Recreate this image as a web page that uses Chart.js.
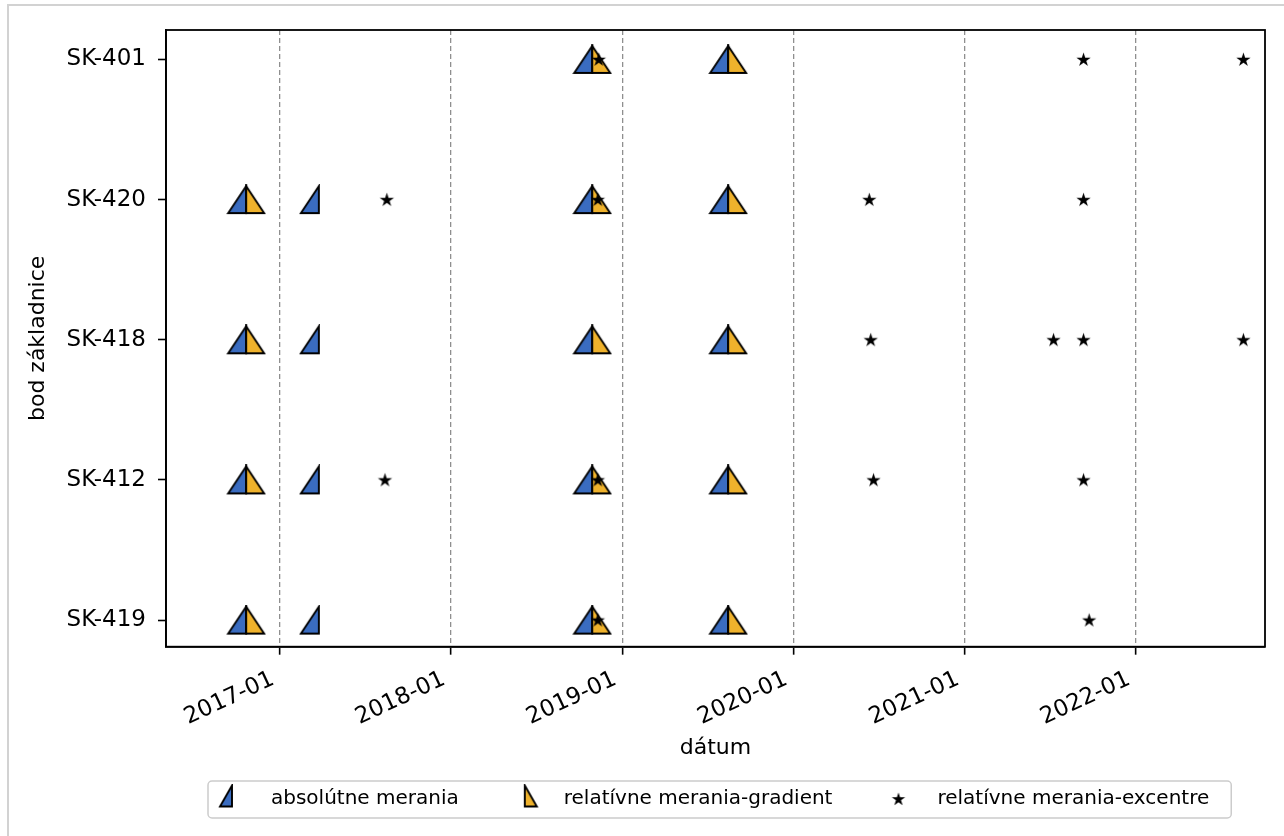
<!DOCTYPE html>
<html lang="sk">
<head>
<meta charset="UTF-8">
<title>Merania na bodoch základnice</title>
<style>
    html, body { margin: 0; padding: 0; background: #fff; overflow: hidden; }
    #wrap { position: relative; width: 1284px; height: 836px; }
    #chart { position: absolute; left: 0; top: 0; }
    #frame { position: absolute; left: 7px; top: 4px; width: 1300px; height: 900px;
             border-left: 2px solid #d2d2d2; border-top: 2px solid #d2d2d2; pointer-events: none; }
</style>
</head>
<body>
<div id="wrap">
    <canvas id="chart" width="1284" height="836"></canvas>
    <div id="frame"></div>
</div>
<script src="https://cdn.jsdelivr.net/npm/chart.js"></script>
<script>
// points of the baseline, bottom to top
const points = ['SK-419', 'SK-412', 'SK-418', 'SK-420', 'SK-401'];
const xTickLabels = ['2017-01', '2018-01', '2019-01', '2020-01', '2021-01', '2022-01'];
const xStart = '2016-05-03';
const xEnd = '2022-10-03';

// absolútne merania
const absoluteDates = [
    '2016-10-21', '2016-10-21', '2016-10-21', '2016-10-21',
    '2017-03-25', '2017-03-25', '2017-03-25', '2017-03-25',
    '2018-10-29', '2018-10-29', '2018-10-29', '2018-10-29', '2018-10-29',
    '2019-08-15', '2019-08-15', '2019-08-15', '2019-08-15', '2019-08-15'
];
const absolutePoints = [
    'SK-420', 'SK-418', 'SK-412', 'SK-419',
    'SK-420', 'SK-418', 'SK-412', 'SK-419',
    'SK-401', 'SK-420', 'SK-418', 'SK-412', 'SK-419',
    'SK-401', 'SK-420', 'SK-418', 'SK-412', 'SK-419'
];

// relatívne merania - gradient
const gradientDates = [
    '2016-10-21', '2016-10-21', '2016-10-21', '2016-10-21',
    '2018-10-29', '2018-10-29', '2018-10-29', '2018-10-29', '2018-10-29',
    '2019-08-15', '2019-08-15', '2019-08-15', '2019-08-15', '2019-08-15'
];
const gradientPoints = [
    'SK-420', 'SK-418', 'SK-412', 'SK-419',
    'SK-401', 'SK-420', 'SK-418', 'SK-412', 'SK-419',
    'SK-401', 'SK-420', 'SK-418', 'SK-412', 'SK-419'
];

// relatívne merania - excentre
const excentreDates = [
    '2018-11-12', '2021-09-11', '2022-08-18',
    '2017-08-17', '2018-11-10', '2020-06-11', '2021-09-11',
    '2020-06-14', '2021-07-09', '2021-09-11', '2022-08-18',
    '2017-08-13', '2018-11-10', '2020-06-20', '2021-09-11',
    '2018-11-10', '2021-09-23'
];
const excentrePoints = [
    'SK-401', 'SK-401', 'SK-401',
    'SK-420', 'SK-420', 'SK-420', 'SK-420',
    'SK-418', 'SK-418', 'SK-418', 'SK-418',
    'SK-412', 'SK-412', 'SK-412', 'SK-412',
    'SK-419', 'SK-419'
];

const blue = '#3a6cc0';
const orange = '#efb22c';

// half of a triangle, vertical edge through the data point
function halfTriangle(fill, dir, w, h, lift) {
    const pad = 2;
    const c = document.createElement('canvas');
    c.width = 2 * w + 2 * pad;
    c.height = h + 2 * pad + 2 * lift;
    const ctx = c.getContext('2d');
    const cx = c.width / 2;
    ctx.beginPath();
    ctx.moveTo(cx, pad);
    ctx.lineTo(cx, pad + h);
    ctx.lineTo(cx + dir * w, pad + h);
    ctx.closePath();
    ctx.fillStyle = fill;
    ctx.fill();
    ctx.lineWidth = 1.9;
    ctx.lineJoin = 'miter';
    ctx.strokeStyle = '#000';
    ctx.stroke();
    return c;
}

function star(r) {
    const s = Math.ceil(2 * r + 4);
    const c = document.createElement('canvas');
    c.width = c.height = s;
    const ctx = c.getContext('2d');
    ctx.translate(s / 2, s / 2 + 0.5);
    ctx.beginPath();
    for (let i = 0; i < 10; i++) {
        const rad = i % 2 ? r * 0.382 : r;
        const a = -Math.PI / 2 + i * Math.PI / 5;
        ctx.lineTo(rad * Math.cos(a), rad * Math.sin(a));
    }
    ctx.closePath();
    ctx.fillStyle = '#000';
    ctx.fill();
    return c;
}

const markers = [halfTriangle(blue, -1, 18, 27, 0), halfTriangle(orange, 1, 18, 27, 0), star(7.5)];
const legendMarkers = [halfTriangle(blue, -1, 12, 21, 3), halfTriangle(orange, 1, 12, 21, 3), star(7)];

function toXY(dates, names) {
    return dates.map((d, i) => ({ x: Date.parse(d), y: points.indexOf(names[i]) }));
}

// black box round the plot and the grey legend frame
const framePlugin = {
    id: 'frame',
    afterDraw(chart) {
        const { ctx, chartArea: a } = chart;
        ctx.save();
        ctx.strokeStyle = '#000';
        ctx.lineWidth = 1.8;
        ctx.strokeRect(a.left, a.top, a.right - a.left, a.bottom - a.top);

        const boxes = chart.legend.legendHitBoxes;
        const first = boxes[0], last = boxes[boxes.length - 1];
        const cy = first.top + first.height / 2;
        const left = first.left + 5;
        const right = last.left + last.width + 22;
        ctx.strokeStyle = '#cccccc';
        ctx.lineWidth = 1.5;
        ctx.beginPath();
        ctx.roundRect(left, cy - 18, right - left, 37, 4);
        ctx.stroke();
        ctx.restore();
    }
};

Chart.defaults.font.family = "'DejaVu Sans', sans-serif";
Chart.defaults.color = '#000';

const chart = new Chart(document.getElementById('chart').getContext('2d'), {
    type: 'scatter',
    data: {
        datasets: [
            { label: 'absolútne merania', data: toXY(absoluteDates, absolutePoints),
              pointStyle: markers[0], pointRadius: 10, order: 2 },
            { label: 'relatívne merania-gradient', data: toXY(gradientDates, gradientPoints),
              pointStyle: markers[1], pointRadius: 10, order: 1 },
            { label: 'relatívne merania-excentre', data: toXY(excentreDates, excentrePoints),
              pointStyle: markers[2], pointRadius: 6, order: 0 }
        ]
    },
    options: {
        responsive: false,
        animation: false,
        layout: { padding: { left: 0, top: 30, right: 19, bottom: 20 } },
        plugins: {
            tooltip: { enabled: false },
            legend: {
                position: 'bottom',
                fullSize: false,
                align: 'start',
                maxHeight: 64,
                labels: {
                    usePointStyle: true,
                    pointStyleWidth: 58,
                    padding: 37,
                    color: '#000',
                    font: { size: 20 },
                    sort: (a, b) => a.datasetIndex - b.datasetIndex,
                    generateLabels: (chart) => {
                        const items = Chart.defaults.plugins.legend.labels.generateLabels(chart);
                        items.forEach(it => { it.pointStyle = legendMarkers[it.datasetIndex]; });
                        return items;
                    }
                }
            }
        },
        scales: {
            x: {
                type: 'linear',
                min: Date.parse(xStart),
                max: Date.parse(xEnd),
                afterBuildTicks: (scale) => {
                    scale.ticks = xTickLabels.map(l => ({ value: Date.parse(l + '-01') }));
                },
                afterFit: (scale) => { scale.height = 105.3; },
                ticks: {
                    callback: (v, i) => xTickLabels[i],
                    minRotation: 25,
                    maxRotation: 25,
                    autoSkip: false,
                    padding: 11,
                    labelOffset: -7,
                    color: '#000',
                    font: { size: 23 }
                },
                grid: { color: '#8f8f8f', lineWidth: 1.3, tickColor: '#000', tickBorderDash: [],
                        tickLength: 8, tickWidth: 1.6 },
                border: { color: '#000', width: 1.8, dash: [5, 3] },
                title: { display: true, text: 'dátum', color: '#000', font: { size: 22 },
                         padding: { top: 0, bottom: -9 } }
            },
            y: {
                type: 'linear',
                min: -0.19,
                max: 4.21,
                afterBuildTicks: (scale) => {
                    scale.ticks = points.map((p, i) => ({ value: i }));
                },
                afterFit: (scale) => { scale.width = 166; },
                ticks: {
                    callback: (v) => points[v],
                    padding: 12,
                    color: '#000',
                    font: { size: 23 }
                },
                grid: { drawOnChartArea: false, tickColor: '#000', tickLength: 8, tickWidth: 1.6 },
                border: { color: '#000', width: 1.8 },
                title: { display: true, text: 'bod základnice', color: '#000', font: { size: 22 },
                         padding: { top: 25, bottom: 0 } }
            }
        }
    },
    plugins: [framePlugin]
});
</script>
</body>
</html>
